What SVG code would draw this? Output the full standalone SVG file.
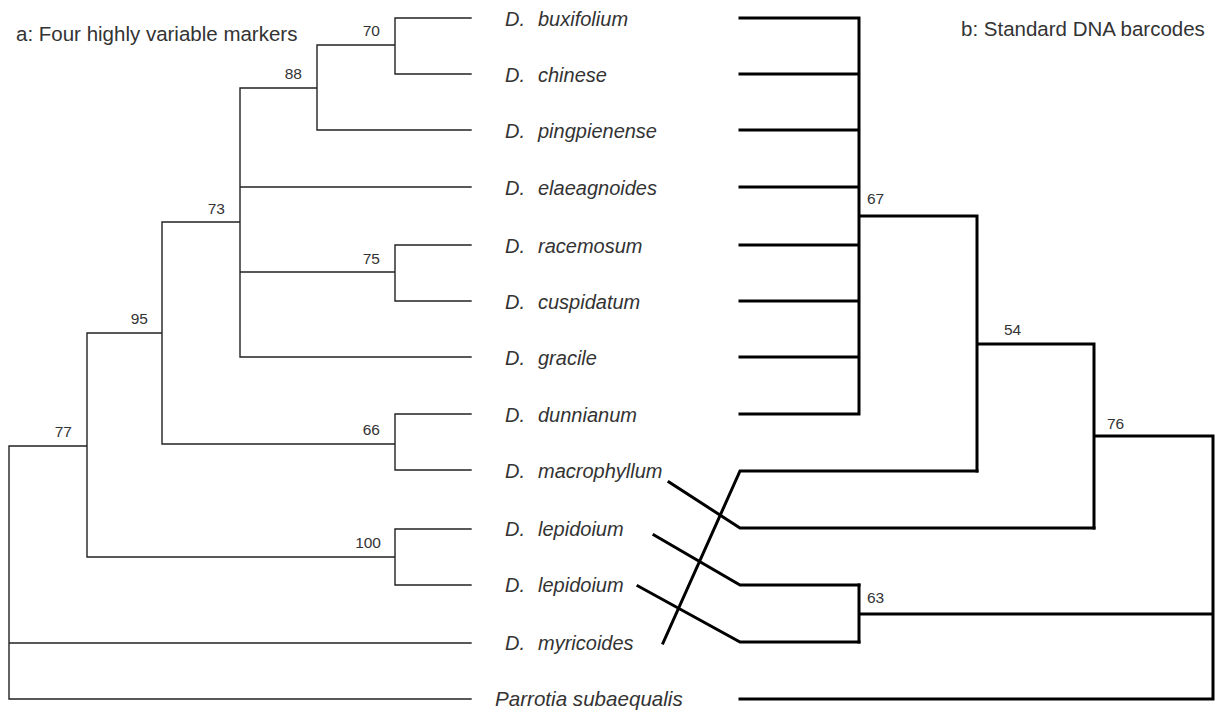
<svg xmlns="http://www.w3.org/2000/svg" width="1218" height="713" viewBox="0 0 1218 713">
<style>
.bg{fill:#fff}
.lt{fill:none;stroke:#222;stroke-width:1.4;stroke-linecap:square}
.rt{fill:none;stroke:#000;stroke-width:3;stroke-linejoin:miter;stroke-linecap:square}
.title{font-family:"Liberation Sans",Arial,sans-serif;font-size:20.5px;fill:#333}
.leaf{font-family:"Liberation Sans",Arial,sans-serif;font-size:20px;font-style:italic;fill:#333}
.sup{font-family:"Liberation Sans",Arial,sans-serif;font-size:15.5px;fill:#333}
.e{text-anchor:end}
</style>
<rect class="bg" x="0" y="0" width="1218" height="713"/>
<g id="titles">
<text class="title" x="16" y="41">a: Four highly variable markers</text>
<text class="title" x="961" y="36">b: Standard DNA barcodes</text>
</g>
<g id="connectors">
<path class="lt" d="M395,18 V74 M395,18 H471 M395,74 H471
M317,45 H395 M317,45 V130 M317,130 H471
M240,88 H317 M240,88 V357 M240,187 H471 M240,272 H395 M240,357 H471
M395,245 V301 M395,245 H471 M395,301 H471
M162,222 H240 M162,222 V444
M162,444 H395 M395,414 V470 M395,414 H471 M395,470 H471
M87,333 H162 M87,333 V557 M87,557 H395 M395,529 V585 M395,529 H471 M395,585 H471
M9,446 H87 M9,446 V699 M9,643 H471 M9,699 H471"/>
<path class="rt" d="M740,18 H859 M740,74 H859 M740,130 H859 M740,187 H859 M740,245 H859 M740,301 H859 M740,357 H859 M740,414 H859 M859,18 V414
M859,216 H977 M977,216 V471
M977,344 H1094 M1094,344 V528
M1094,436 H1213 M1213,436 V699 M740,699 H1213
M859,614 H1213 M859,585 V642"/>
<path class="rt" stroke-linecap="butt" d="M663,643 L740,471 H977 M669,482 L740,528 H1094 M654,535 L740,585 H859 M638,586 L740,642 H859"/>
</g>
<g id="support">
<text class="sup e" x="380" y="36">70</text>
<text class="sup e" x="302" y="79">88</text>
<text class="sup e" x="225" y="214">73</text>
<text class="sup e" x="380" y="264">75</text>
<text class="sup e" x="148" y="324">95</text>
<text class="sup e" x="72" y="437">77</text>
<text class="sup e" x="380" y="435">66</text>
<text class="sup e" x="381" y="548">100</text>
<text class="sup" x="867" y="204">67</text>
<text class="sup" x="1004" y="335">54</text>
<text class="sup" x="1107" y="429">76</text>
<text class="sup" x="867" y="603">63</text>
</g>
<g id="leaf-buxifolium"><text class="leaf" y="26"><tspan x="505">D.</tspan><tspan x="538">buxifolium</tspan></text></g>
<g id="leaf-chinese"><text class="leaf" y="82"><tspan x="505">D.</tspan><tspan x="538">chinese</tspan></text></g>
<g id="leaf-pingpienense"><text class="leaf" y="138"><tspan x="505">D.</tspan><tspan x="538">pingpienense</tspan></text></g>
<g id="leaf-elaeagnoides"><text class="leaf" y="195"><tspan x="505">D.</tspan><tspan x="538">elaeagnoides</tspan></text></g>
<g id="leaf-racemosum"><text class="leaf" y="253"><tspan x="505">D.</tspan><tspan x="538">racemosum</tspan></text></g>
<g id="leaf-cuspidatum"><text class="leaf" y="309"><tspan x="505">D.</tspan><tspan x="538">cuspidatum</tspan></text></g>
<g id="leaf-gracile"><text class="leaf" y="365"><tspan x="505">D.</tspan><tspan x="538">gracile</tspan></text></g>
<g id="leaf-dunnianum"><text class="leaf" y="422"><tspan x="505">D.</tspan><tspan x="538">dunnianum</tspan></text></g>
<g id="leaf-macrophyllum"><text class="leaf" y="478"><tspan x="505">D.</tspan><tspan x="538">macrophyllum</tspan></text></g>
<g id="leaf-lepidoium-1"><text class="leaf" y="536"><tspan x="505">D.</tspan><tspan x="538">lepidoium</tspan></text></g>
<g id="leaf-lepidoium-2"><text class="leaf" y="592"><tspan x="505">D.</tspan><tspan x="538">lepidoium</tspan></text></g>
<g id="leaf-myricoides"><text class="leaf" y="650"><tspan x="505">D.</tspan><tspan x="538">myricoides</tspan></text></g>
<g id="leaf-parrotia"><text class="leaf" x="495" y="706" style="font-size:20.6px">Parrotia subaequalis</text></g>
</svg>
